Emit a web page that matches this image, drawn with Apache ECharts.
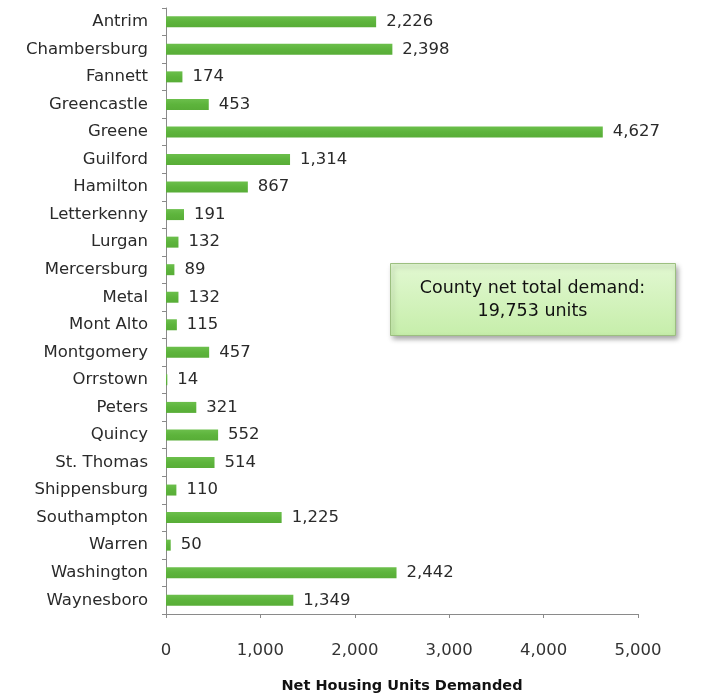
<!DOCTYPE html>
<html>
<head>
<meta charset="utf-8">
<script src="https://cdn.jsdelivr.net/npm/echarts@6/dist/echarts.min.js"></script>
<style>
  html, body { margin: 0; padding: 0; background: #fff; }
  #chart { width: 712px; height: 695px; }
</style>
</head>
<body>
<div id="chart"></div>
<script>
// Municipalities, listed top to bottom
const municipalities = [
  'Antrim', 'Chambersburg', 'Fannett', 'Greencastle', 'Greene', 'Guilford',
  'Hamilton', 'Letterkenny', 'Lurgan', 'Mercersburg', 'Metal', 'Mont Alto',
  'Montgomery', 'Orrstown', 'Peters', 'Quincy', 'St. Thomas', 'Shippensburg',
  'Southampton', 'Warren', 'Washington', 'Waynesboro'
];
// Net housing units demanded per municipality
const unitsDemanded = [
  2226, 2398, 174, 453, 4627, 1314,
  867, 191, 132, 89, 132, 115,
  457, 14, 321, 552, 514, 110,
  1225, 50, 2442, 1349
];
const axisTicks = [0, 1000, 2000, 3000, 4000, 5000];
const countyTotal = '19,753';

const fmt = v => v.toLocaleString('en-US');
const font = 'DejaVu Sans';

const chart = echarts.init(document.getElementById('chart'));
chart.setOption({
  animation: false,
  backgroundColor: '#ffffff',
  textStyle: { fontFamily: font },
  grid: {
    left: 166, right: 74, top: 8, bottom: 81,
    containLabel: false,
    outerBoundsMode: 'none'
  },
  xAxis: {
    type: 'value',
    min: axisTicks[0],
    max: axisTicks[axisTicks.length - 1],
    interval: 1000,
    name: 'Net Housing Units Demanded',
    nameLocation: 'middle',
    nameGap: 65,
    nameTextStyle: { fontFamily: font, fontWeight: 'bold', fontSize: 14.5, color: '#111' },
    axisLine: { show: true, lineStyle: { color: '#8a8a8a', width: 1 } },
    axisTick: { show: true, length: 4, lineStyle: { color: '#8a8a8a' } },
    axisLabel: { color: '#333', fontSize: 16.5, margin: 28, formatter: v => fmt(v) },
    splitLine: { show: false }
  },
  yAxis: {
    type: 'category',
    data: municipalities,
    inverse: true,
    axisLine: { show: true, lineStyle: { color: '#8a8a8a', width: 1 } },
    axisTick: { show: true, length: 4, lineStyle: { color: '#8a8a8a' } },
    axisLabel: { color: '#2a2a2a', fontSize: 16.5, margin: 18 },
    splitLine: { show: false }
  },
  series: [{
    type: 'bar',
    data: unitsDemanded,
    barWidth: 11,
    itemStyle: {
      color: new echarts.graphic.LinearGradient(0, 0, 0, 1, [
        { offset: 0, color: '#6cbf4c' },
        { offset: 0.5, color: '#5db43c' },
        { offset: 1, color: '#58ad37' }
      ])
    },
    label: {
      show: true,
      position: 'right',
      distance: 10,
      color: '#2a2a2a',
      fontSize: 16.5,
      formatter: p => fmt(p.value)
    }
  }],
  graphic: [{
    type: 'group',
    left: 390,
    top: 263,
    children: [{
      type: 'rect',
      shape: { x: 0, y: 0, width: 285, height: 72 },
      style: {
        fill: new echarts.graphic.LinearGradient(0, 0, 0, 1, [
          { offset: 0, color: '#e2f8d2' },
          { offset: 1, color: '#c6eeaa' }
        ]),
        stroke: '#9cbf80',
        lineWidth: 1,
        shadowBlur: 5,
        shadowOffsetX: 2,
        shadowOffsetY: 3,
        shadowColor: 'rgba(0,0,0,0.35)'
      }
    }, {
      type: 'text',
      x: 142,
      y: 36,
      style: {
        text: 'County net total demand:\n' + countyTotal + ' units',
        align: 'center',
        verticalAlign: 'middle',
        fontFamily: font,
        fontSize: 17.5,
        lineHeight: 23,
        fill: '#111'
      }
    }]
  }]
});
</script>
</body>
</html>
